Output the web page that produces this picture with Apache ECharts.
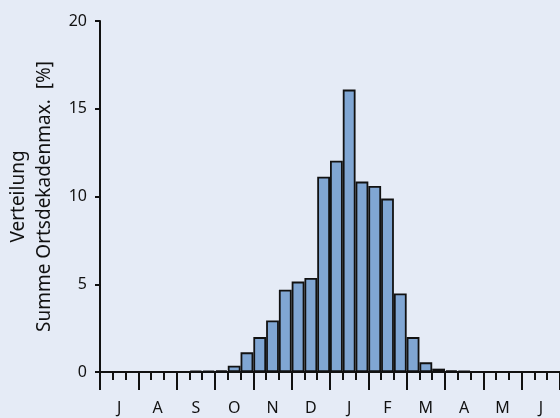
<!DOCTYPE html>
<html>
<head>
<meta charset="utf-8">
<script src="https://cdn.jsdelivr.net/npm/echarts@6/dist/echarts.min.js"></script>
<style>html,body{margin:0;padding:0;background:#e5ebf6;}#c{width:560px;height:418px;}</style>
</head>
<body>
<div id="c"></div>
<script>
// Months (July .. June) and their tick labels
const months = ['Jul','Aug','Sep','Okt','Nov','Dez','Jan','Feb','Mär','Apr','Mai','Jun'];
const monthLabels = ['J','A','S','O','N','D','J','F','M','A','M','J'];
// Decades (3 per month)
const decades = [];
months.forEach(m => { decades.push(m + ' I', m + ' II', m + ' III'); });
// Share per decade [%]
const values = [
  0, 0, 0,            // Jul
  0, 0, 0,            // Aug
  0, 0.08, 0.08,      // Sep
  0.1, 0.36, 1.12,    // Okt
  1.99, 2.94, 4.69,   // Nov
  5.15, 5.36, 11.13,  // Dez
  12.04, 16.09, 10.85,// Jan
  10.6, 9.88, 4.48,   // Feb
  1.99, 0.55, 0.19,   // Mär
  0.1, 0.06, 0,       // Apr
  0, 0, 0,            // Mai
  0, 0, 0             // Jun
];
const yTicks = [0, 5, 10, 15, 20];

const font = 'Noto Sans';
const chart = echarts.init(document.getElementById('c'), null, {renderer: 'canvas'});
chart.setOption({
  backgroundColor: '#e5ebf6',
  animation: false,
  grid: {left: 100, right: 0, top: 21, bottom: 46, containLabel: false, outerBoundsMode: 'none'},
  xAxis: [
    {
      type: 'category', data: decades, boundaryGap: true, position: 'bottom',
      axisLine: {show: true, lineStyle: {color: '#111', width: 2}},
      axisTick: {show: true, interval: 0, length: 8, lineStyle: {color: '#111', width: 2}},
      axisLabel: {show: false}, splitLine: {show: false}
    },
    {
      type: 'category', data: months, boundaryGap: true, position: 'bottom',
      axisLine: {show: false},
      axisTick: {show: true, interval: 0, length: 18, lineStyle: {color: '#111', width: 2}},
      axisLabel: {show: true, interval: 0, margin: 28, fontFamily: font, fontSize: 16, color: '#111',
        formatter: (v, i) => monthLabels[i]},
      splitLine: {show: false}
    }
  ],
  yAxis: {
    type: 'value', min: yTicks[0], max: yTicks[yTicks.length - 1], interval: 5,
    name: 'Verteilung\nSumme Ortsdekadenmax.  [%]',
    nameLocation: 'middle', nameGap: 56, nameRotate: 90,
    nameTextStyle: {fontFamily: font, fontSize: 19, color: '#111', lineHeight: 26, align: 'center', verticalAlign: 'middle'},
    axisLine: {show: true, lineStyle: {color: '#111', width: 2}},
    axisTick: {show: true, length: 5, lineStyle: {color: '#111', width: 2}},
    axisLabel: {fontFamily: font, fontSize: 16, color: '#111', margin: 13},
    splitLine: {show: false}
  },
  series: [{
    type: 'bar', xAxisIndex: 0, data: values,
    barWidth: '100%',
    itemStyle: {color: '#80a6d3', borderColor: '#111', borderWidth: 1.8}
  }]
});
</script>
</body>
</html>
